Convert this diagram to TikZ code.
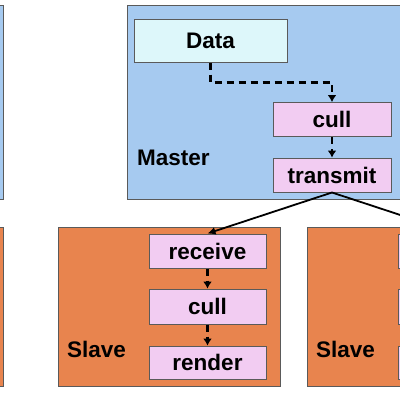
\documentclass[tikz,border=0pt]{standalone}
\usepackage{fontspec}
\setmainfont{Liberation Sans}
\usetikzlibrary{positioning,arrows.meta}

\definecolor{masterblue}{HTML}{A6CAF0}
\definecolor{datacyan}{HTML}{DDF7FA}
\definecolor{procpink}{HTML}{F2CCF2}
\definecolor{slaveorange}{HTML}{E8844E}
\definecolor{edgegray}{HTML}{5A5A5A}

\tikzset{
  proc/.style={draw=edgegray, line width=1pt, fill=procpink, inner sep=0pt,
    minimum width=117pt, minimum height=34pt, font=\fontsize{22.5}{26}\selectfont\bfseries},
  lbl/.style={anchor=west, inner sep=0pt, font=\fontsize{22.5}{26}\selectfont\bfseries},
  dasharrow/.style={line width=2.3pt, dash pattern=on 7pt off 5pt, -{Latex[length=7pt,width=9pt]}},
  sendarrow/.style={line width=1.8pt, -{Latex[length=8pt,width=8pt]}}
}

\begin{document}
\begin{tikzpicture}[x=1pt,y=-1pt]

\useasboundingbox (0,0) rectangle (400,400);
\clip (0,0) rectangle (400,400);

% parts of the neighbour boxes on the left
\draw[edgegray, fill=masterblue, line width=1pt] (-30,5) rectangle (3,199);
\draw[edgegray, fill=slaveorange, line width=1pt] (-30,227) rectangle (3,386);

% Master box with data, cull and transmit
\draw[edgegray, fill=masterblue, line width=1pt] (127,5) rectangle (430,199);
\node[proc, fill=datacyan, minimum width=153pt, minimum height=43pt] (data) at (210.5,40.5) {Data};
\node[proc, minimum width=118pt] (mcull) at (332,119.5) {cull};
\node[proc, minimum width=118pt] (transmit) at (332,175) {transmit};
\node[lbl] (master) at (137,158) {Master};

\draw[dasharrow] (data.south) -- ++(0,20) -| (mcull.north);
\draw[dasharrow] (mcull.south) -- (transmit.north);

% Slave box with receive, cull and render
\draw[edgegray, fill=slaveorange, line width=1pt] (58,227) rectangle (280,386);
\node[proc] (recv1) at (207.5,251) {receive};
\node[proc, minimum height=35pt] (scull1) at (207.5,306.5) {cull};
\node[proc, minimum height=33pt] (render1) at (207.5,362.5) {render};
\node[lbl] (slave1) at (67,349) {Slave};
\draw[dasharrow] (recv1.south) -- (scull1.north);
\draw[dasharrow] (scull1.south) -- (render1.north);

% second slave, only its left part is in view
\draw[edgegray, fill=slaveorange, line width=1pt] (307,227) rectangle (530,386);
\node[proc] (recv2) at (456.5,251) {};
\node[proc, minimum height=35pt] (scull2) at (456.5,306.5) {};
\node[proc, minimum height=33pt] (render2) at (456.5,362.5) {};
\node[lbl] (slave2) at (316,349) {Slave};

% transmit to the slaves
\draw[sendarrow] (transmit.south) -- (recv1.north);
\draw[sendarrow] (transmit.south) -- (recv2.north);

\end{tikzpicture}
\end{document}
